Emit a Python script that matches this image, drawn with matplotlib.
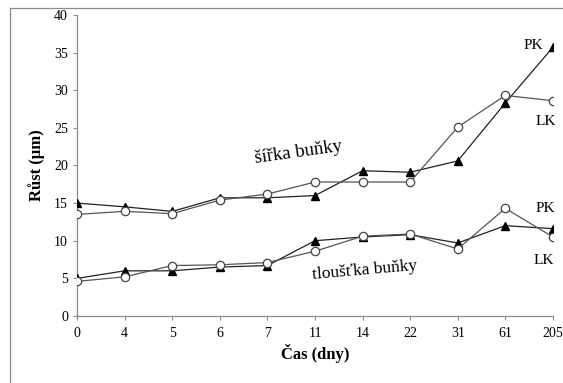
import matplotlib
matplotlib.use("Agg")
import matplotlib.pyplot as plt
from matplotlib.lines import Line2D

plt.rcParams["font.family"] = ["Liberation Serif", "DejaVu Serif"]

days = ["0", "4", "5", "6", "7", "11", "14", "22", "31", "61", "205"]

# šířka buňky (cell width)
width_pk = [15.0, 14.5, 13.9, 15.7, 15.7, 16.0, 19.3, 19.1, 20.6, 28.3, 35.7]
width_lk = [13.5, 13.9, 13.6, 15.4, 16.2, 17.8, 17.8, 17.8, 25.1, 29.3, 28.6]

# tloušťka buňky (cell thickness)
thick_pk = [5.0, 6.0, 6.0, 6.5, 6.7, 10.0, 10.5, 10.8, 9.7, 12.0, 11.6]
thick_lk = [4.6, 5.2, 6.7, 6.8, 7.1, 8.6, 10.6, 10.9, 8.9, 14.3, 10.5]

C_LINE = "#555555"
C_AXIS = "#8c8c8c"

fig = plt.figure(figsize=(5.63, 3.83), dpi=100)
ax = fig.add_axes([0.137, 0.175, 0.845, 0.786])

x = list(range(len(days)))
for y in (width_pk, thick_pk):
    ax.plot(x, y, color="#222222", linewidth=0.9, marker="^", markersize=6,
            markerfacecolor="black", markeredgecolor="black", zorder=3)
for y in (width_lk, thick_lk):
    ax.plot(x, y, color=C_LINE, linewidth=0.9, marker="o", markersize=6,
            markerfacecolor="white", markeredgecolor="#444444",
            markeredgewidth=0.9, zorder=4)

ax.set_xlim(0, len(days) - 1)
ax.set_ylim(0, 40)
ax.set_yticks(range(0, 41, 5))
ax.set_xticks(x)
ax.set_xticklabels(days)
ax.tick_params(axis="both", labelsize=10, color=C_AXIS, length=3, width=0.8)
ax.tick_params(axis="x", pad=5)
for s in ("top", "right"):
    ax.spines[s].set_visible(False)
for s in ("left", "bottom"):
    ax.spines[s].set_color(C_AXIS)
    ax.spines[s].set_linewidth(0.9)

ax.set_ylabel("Růst (µm)", fontsize=12, fontweight="bold", labelpad=7)
ax.set_xlabel("Čas (dny)", fontsize=12, fontweight="bold", labelpad=3)

ax.text(4.65, 21.7, "šířka buňky", fontsize=13.5, rotation=8,
        ha="center", va="center")
ax.text(6.05, 6.0, "tloušťka buňky", fontsize=12.5, rotation=5,
        ha="center", va="center")
ax.text(9.6, 36.0, "PK", fontsize=11, ha="center", va="center")
ax.text(9.85, 25.9, "LK", fontsize=11, ha="center", va="center")
ax.text(9.85, 14.3, "PK", fontsize=11, ha="center", va="center")
ax.text(9.8, 7.4, "LK", fontsize=11, ha="center", va="center")

# outer frame (left and top edges visible in the crop)
fx = 9.5 / 563
fy = 1 - 7.5 / 383
fig.add_artist(Line2D([fx, fx], [0, fy], transform=fig.transFigure,
                      color=C_AXIS, linewidth=0.9))
fig.add_artist(Line2D([fx, 1], [fy, fy], transform=fig.transFigure,
                      color=C_AXIS, linewidth=0.9))

fig.savefig("out.png", dpi=100)
